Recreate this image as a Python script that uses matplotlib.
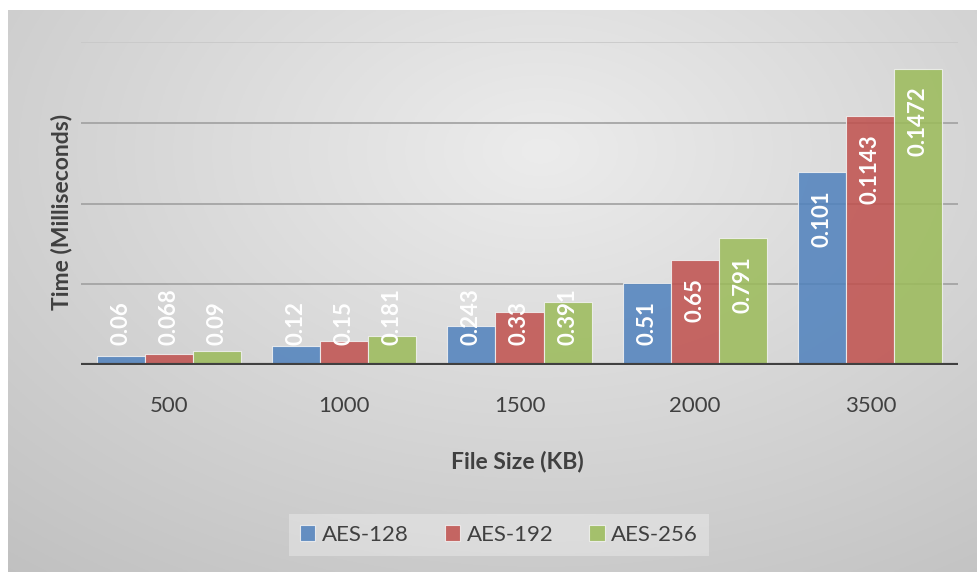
import numpy as np
import matplotlib
matplotlib.use("Agg")
import matplotlib.pyplot as plt

plt.rcParams['font.family'] = ['Lato', 'DejaVu Sans']

W, H = 977, 572

sizes = ["500", "1000", "1500", "2000", "3500"]
series = ["AES-128", "AES-192", "AES-256"]
# bar heights (grid units, no y tick labels shown)
aes128 = [0.11, 0.235, 0.483, 1.015, 2.39]
aes192 = [0.136, 0.297, 0.656, 1.30, 3.08]
aes256 = [0.173, 0.359, 0.780, 1.573, 3.67]
# data labels as printed on the chart
lab128 = ["0.06", "0.12", "0.243", "0.51", "0.101"]
lab192 = ["0.068", "0.15", "0.33", "0.65", "0.1143"]
lab256 = ["0.09", "0.181", "0.391", "0.791", "0.1472"]

colors = ["#4f81bd", "#c0504d", "#9bbb59"]
txt = "#404040"

fig = plt.figure(figsize=(W / 100, H / 100), dpi=100)
fig.patch.set_facecolor("white")

# gradient chart background
bg = fig.add_axes([8 / W, 0, 1 - 8 / W, (H - 10) / H], zorder=-10)
gx, gy = np.meshgrid(np.linspace(0, 1, 400), np.linspace(0, 1, 300))
d = np.sqrt(((gx - 0.55) / 0.8) ** 2 + ((gy - 0.25) / 0.9) ** 2)
g = np.clip(236 - 40 * d, 190, 240) / 255
bg.imshow(np.dstack([g, g, g]), aspect="auto", extent=[0, 1, 1, 0])
bg.set_axis_off()

left, right, top, base = 81, 958, 42, 365
ax = fig.add_axes([left / W, (H - base) / H, (right - left) / W, (base - top) / H])
ax.set_facecolor("none")
for s in ax.spines.values():
    s.set_visible(False)

x = np.arange(len(sizes))
bw = 0.274
vals = [aes128, aes192, aes256]
labs = [lab128, lab192, lab256]
texts = []
for i, (v, lb) in enumerate(zip(vals, labs)):
    xs = x + (i - 1) * bw
    ax.bar(xs, v, bw, color=colors[i], alpha=0.85, edgecolor="#f2f2f2",
           linewidth=0.8, label=series[i], zorder=3)
    for xi, h, t in zip(xs, v, lb):
        a = ax.annotate(t, (xi, h), xytext=(0, -18), textcoords="offset pixels",
                        rotation=90, ha="center", va="top", color="white",
                        fontsize=16, fontweight="bold", zorder=5)
        texts.append(a)

ax.set_xlim(-0.5, len(sizes) - 0.5)
ax.set_ylim(0, 4)
ax.set_yticks([1, 2, 3])
ax.yaxis.grid(True, color="#a0a0a0", linewidth=1.2, zorder=1)
ax.axhline(4, color="#c8c8c8", linewidth=1.2, zorder=1)
ax.axhline(0, color="#404040", linewidth=3, zorder=4)
ax.tick_params(axis="y", length=0, labelleft=False)
ax.set_xticks(x)
ax.set_xticklabels(sizes, fontsize=16, color=txt)
ax.tick_params(axis="x", length=0, pad=22)

# labels that don't fit inside the bar sit just above the baseline
fig.canvas.draw()
r = fig.canvas.get_renderer()
base_disp = ax.transData.transform((0, 0))[1]
for a in texts:
    bb = a.get_window_extent(r)
    if bb.y0 < base_disp + 20:
        a.xy = (a.xy[0], 0)
        a.set_va("bottom")
        a.xyann = (0, 20)

fig.text(62 / W, 1 - 212 / H, "Time (Milliseconds)", rotation=90, ha="center",
         va="center", fontsize=16.5, fontweight="bold", color=txt)
fig.text(517 / W, 1 - 462 / H, "File Size (KB)", ha="center", va="center",
         fontsize=16.5, fontweight="bold", color=txt)

leg = fig.legend(loc="center", bbox_to_anchor=(499 / W, 1 - 535 / H), ncol=3,
                 fontsize=16, frameon=True, handlelength=0.7, handleheight=0.7,
                 handletextpad=0.3, columnspacing=1.6, borderpad=0.5)
leg.get_frame().set_facecolor("#ffffff")
leg.get_frame().set_alpha(0.3)
leg.get_frame().set_edgecolor("none")
leg.get_frame().set_boxstyle("square", pad=0.0)
for t in leg.get_texts():
    t.set_color(txt)

fig.savefig("out.png", dpi=100)
